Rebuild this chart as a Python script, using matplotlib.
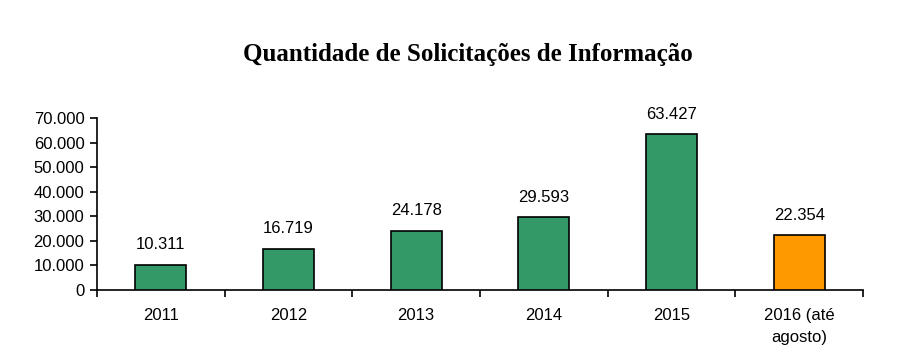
import matplotlib
matplotlib.use("Agg")
import matplotlib.pyplot as plt
from matplotlib.ticker import FuncFormatter, FixedLocator

categories = ["2011", "2012", "2013", "2014", "2015", "2016 (até\nagosto)"]
values = [10311, 16719, 24178, 29593, 63427, 22354]
colors = ["#339966", "#339966", "#339966", "#339966", "#339966", "#FF9900"]
title = "Quantidade de Solicitações de Informação"

fig = plt.figure(figsize=(8.99, 3.64), dpi=100)
ax = fig.add_axes([97/899, 1-290/364, (863-97)/899, (290-118)/364])

x = list(range(len(categories)))
ax.bar(x, values, width=0.4, color=colors, edgecolor="black", linewidth=1.2, zorder=3)

def fmt(v):
    return f"{int(v):,}".replace(",", ".")

for xi, v in zip(x, values):
    ax.annotate(fmt(v), (xi, v), xytext=(0, 9), textcoords="offset points",
                ha="center", va="bottom", fontsize=12, family="Liberation Sans")

ax.set_xlim(-0.5, len(categories) - 0.5)
ax.set_ylim(0, 70000)
ax.set_yticks(range(0, 70001, 10000))
ax.yaxis.set_major_formatter(FuncFormatter(lambda v, p: fmt(v)))
ax.set_xticks(x)
ax.set_xticklabels(categories, fontsize=12, family="Liberation Sans", linespacing=1.55)
ax.xaxis.set_minor_locator(FixedLocator([i - 0.5 for i in range(len(categories) + 1)]))
ax.tick_params(axis="x", which="major", length=0, pad=13)
ax.tick_params(axis="x", which="minor", length=5, width=1.2, direction="out")
ax.tick_params(axis="y", length=5, width=1.2, direction="out", labelsize=12, pad=4)
for lab in ax.get_yticklabels():
    lab.set_family("Liberation Sans")

for s in ["top", "right"]:
    ax.spines[s].set_visible(False)
ax.spines["left"].set_linewidth(1.2)
ax.spines["bottom"].set_linewidth(1.2)

fig.text(468/899, 1-55/364, title, ha="center", va="center", fontsize=18,
         fontweight="bold", family="Liberation Serif")

fig.savefig("out.png", dpi=100)
